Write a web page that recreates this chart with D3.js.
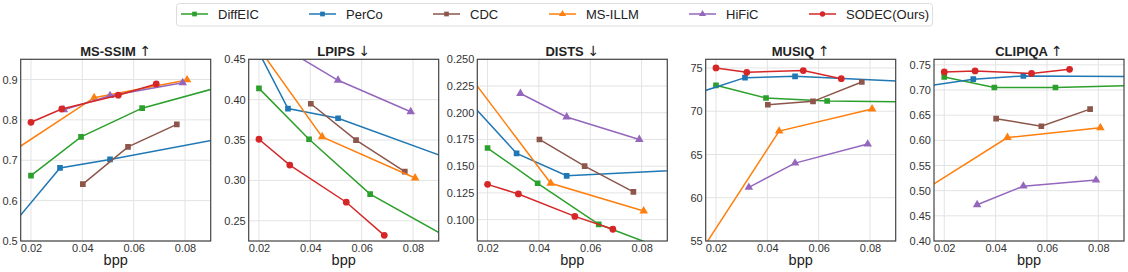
<!DOCTYPE html>
<html>
<head>
    <meta charset="utf-8">
    <script src="https://d3js.org/d3.v7.min.js"></script>
    <style>
        body { margin: 0; background: #fff; }
        text { font-family: "Liberation Sans", Arial, sans-serif; }
    </style>
</head>
<body>
<script>
    // methods, in legend / draw order
    var methods = ["DiffEIC", "PerCo", "CDC", "MS-ILLM", "HiFiC", "SODEC(Ours)"];
    var colors = ["#2ca02c", "#1f77b4", "#8c564b", "#ff7f0e", "#9467bd", "#d62728"];
    var shapes = ["square", "square", "square", "triangle", "triangle", "circle"];

    // bits per pixel of each point, one list per method
    var bpp = [
        [0.020, 0.0395, 0.0633, 0.11],
        [0.008, 0.0313, 0.0508, 0.125],
        [0.0402, 0.0578, 0.0768],
        [0.010, 0.0446, 0.0808],
        [0.0328, 0.0508, 0.0791],
        [0.020, 0.032, 0.054, 0.0688]
    ];

    var msssim = [
        [0.662, 0.758, 0.829, 0.910],
        [0.503, 0.681, 0.702, 0.791],
        [0.641, 0.733, 0.789],
        [0.710, 0.855, 0.899],
        [0.825, 0.860, 0.892],
        [0.794, 0.827, 0.861, 0.889]
    ];
    var lpips = [
        [0.414, 0.351, 0.283, 0.200],
        [0.532, 0.389, 0.377, 0.291],
        [0.395, 0.350, 0.311],
        [0.508, 0.354, 0.303],
        [0.458, 0.424, 0.385],
        [0.351, 0.319, 0.273, 0.232]
    ];
    var dists = [
        [0.167, 0.134, 0.0956, 0.053],
        [0.223, 0.162, 0.141, 0.150],
        [0.175, 0.150, 0.126],
        [0.244, 0.134, 0.108],
        [0.218, 0.196, 0.175],
        [0.133, 0.124, 0.103, 0.091]
    ];
    var musiq = [
        [72.99, 71.53, 71.18, 71.04],
        [71.63, 73.88, 74.03, 73.02],
        [70.75, 71.14, 73.38],
        [51.9, 67.7, 70.25],
        [61.2, 64.0, 66.2],
        [75.0, 74.5, 74.7, 73.76]
    ];
    var clipiqa = [
        [0.726, 0.705, 0.705, 0.711],
        [0.704, 0.7215, 0.728, 0.7258],
        [0.643, 0.628, 0.662],
        [0.494, 0.6055, 0.625],
        [0.472, 0.509, 0.521],
        [0.736, 0.738, 0.733, 0.741]
    ];

    var xTicks = [0.02, 0.04, 0.06, 0.08];

    var panels = [
        {title: "MS-SSIM", arrow: "\u2191", values: msssim, domain: [0.5, 0.95], ticks: [0.5, 0.6, 0.7, 0.8, 0.9], fmt: ".1f"},
        {title: "LPIPS", arrow: "\u2193", values: lpips, domain: [0.225, 0.45], ticks: [0.25, 0.30, 0.35, 0.40, 0.45], fmt: ".2f"},
        {title: "DISTS", arrow: "\u2193", values: dists, domain: [0.08, 0.25], ticks: [0.100, 0.125, 0.150, 0.175, 0.200, 0.225, 0.250], fmt: ".3f"},
        {title: "MUSIQ", arrow: "\u2191", values: musiq, domain: [55, 76], ticks: [55, 60, 65, 70, 75], fmt: "d"},
        {title: "CLIPIQA", arrow: "\u2191", values: clipiqa, domain: [0.40, 0.761], ticks: [0.40, 0.45, 0.50, 0.55, 0.60, 0.65, 0.70, 0.75], fmt: ".2f"}
    ];

    var width = 1128, height = 272;
    var panelLeft = [20.7, 248.7, 477.3, 705.7, 934],
        panelW = 190,
        plotTop = 59.3,
        plotBottom = 241;

    var svg = d3.select("body").append("svg")
        .attr("width", width)
        .attr("height", height);

    function symbolFor(shape, size) {
        var t = shape == "square" ? d3.symbolSquare : shape == "triangle" ? d3.symbolTriangle : d3.symbolCircle;
        return d3.symbol().type(t).size(size);
    }

    var x = d3.scaleLinear().domain([0.016, 0.09]).range([0, panelW]);

    panels.forEach(function(p, pi) {
        var g = svg.append("g").attr("transform", "translate(" + panelLeft[pi] + "," + plotTop + ")");
        var h = plotBottom - plotTop;
        var y = d3.scaleLinear().domain(p.domain).range([h, 0]);

        g.append("clipPath").attr("id", "clip" + pi)
          .append("rect").attr("width", panelW).attr("height", h);

        // grid
        g.append("g").selectAll("line").data(xTicks).enter().append("line")
            .attr("x1", function(d) { return x(d); }).attr("x2", function(d) { return x(d); })
            .attr("y1", 0).attr("y2", h)
            .style("stroke", "#e3e3e3").style("stroke-width", 1);
        g.append("g").selectAll("line").data(p.ticks).enter().append("line")
            .attr("y1", function(d) { return y(d); }).attr("y2", function(d) { return y(d); })
            .attr("x1", 0).attr("x2", panelW)
            .style("stroke", "#e3e3e3").style("stroke-width", 1);

        // axes, labels only
        var xa = g.append("g").attr("transform", "translate(0," + h + ")")
            .call(d3.axisBottom(x).tickValues(xTicks).tickSize(0).tickPadding(3).tickFormat(d3.format(".2f")));
        var ya = g.append("g")
            .call(d3.axisLeft(y).tickValues(p.ticks).tickSize(0).tickPadding(3).tickFormat(d3.format(p.fmt)));
        [xa, ya].forEach(function(a) {
            a.select(".domain").remove();
            a.selectAll("text").style("font-family", "Liberation Sans, Arial, sans-serif")
                .style("font-size", "11px").style("fill", "#333");
        });

        var plot = g.append("g").attr("clip-path", "url(#clip" + pi + ")");
        methods.forEach(function(m, mi) {
            var pts = bpp[mi].map(function(b, k) { return [b, p.values[mi][k]]; });
            plot.append("path")
                .datum(pts)
                .attr("d", d3.line().x(function(d) { return x(d[0]); }).y(function(d) { return y(d[1]); }))
                .style("fill", "none").style("stroke", colors[mi]).style("stroke-width", 1.5);
            plot.selectAll(null).data(pts).enter().append("path")
                .attr("transform", function(d) { return "translate(" + x(d[0]) + "," + y(d[1]) + ")"; })
                .attr("d", symbolFor(shapes[mi], shapes[mi] == "circle" ? 36 : 32))
                .style("fill", colors[mi]);
        });

        // frame
        g.append("rect").attr("width", panelW).attr("height", h)
            .style("fill", "none").style("stroke", "#444").style("stroke-width", 1.2);

        var t = g.append("text").attr("x", panelW / 2).attr("y", -3)
            .attr("text-anchor", "middle")
            .style("font-size", "13px").style("font-weight", "bold").style("fill", "#222");
        t.append("tspan").text(p.title + "  ");
        t.append("tspan").style("font-family", "DejaVu Sans").style("font-weight", "normal")
            .style("font-size", "14px").text(p.arrow);

        g.append("text").attr("x", panelW / 2).attr("y", 265 - plotTop)
            .attr("text-anchor", "middle")
            .style("font-size", "14.5px").style("fill", "#222")
            .text("bpp");
    });

    // legend
    var legX = [181, 309, 433, 549, 689, 809];
    var legend = svg.append("g");
    legend.append("rect")
        .attr("x", 176.5).attr("y", 3.5).attr("width", 756).attr("height", 22.5)
        .attr("rx", 3)
        .style("fill", "#fff").style("stroke", "#ddd").style("stroke-width", 1);
    methods.forEach(function(m, mi) {
        var lg = legend.append("g").attr("transform", "translate(" + legX[mi] + ",14)");
        lg.append("line").attr("x1", 0).attr("x2", 27)
            .style("stroke", colors[mi]).style("stroke-width", 1.5);
        lg.append("path").attr("transform", "translate(13.5,0)")
            .attr("d", symbolFor(shapes[mi], 22))
            .style("fill", colors[mi]);
        lg.append("text").attr("x", 37).attr("y", 4.5)
            .style("font-size", "13px").style("fill", "#222")
            .text(m);
    });
</script>
</body>
</html>
